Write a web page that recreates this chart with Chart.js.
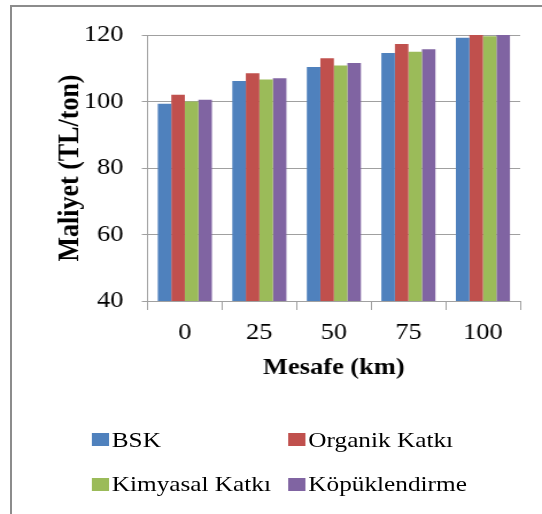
<!DOCTYPE html>
<html>
<head>
<meta charset="utf-8">
<script src="https://cdn.jsdelivr.net/npm/chart.js@4.4.1/dist/chart.umd.min.js"></script>
<style>
  html, body { margin: 0; padding: 0; background: #fff; }
  body { width: 542px; height: 514px; position: relative; overflow: hidden; }
  #frame { position: absolute; left: 10px; top: 5px; width: 600px; height: 600px;
           border-top: 2px solid #8c8c8c; border-left: 2px solid #8c8c8c; }
  #wrap { position: absolute; left: 0; top: 0; width: 472px; height: 514px;
          transform: scaleX(1.1483); transform-origin: 0 0; }
  #myChart { position: absolute; left: 0; top: 0; }
  .lg { position: absolute; font-family: "Liberation Serif", "Times New Roman", serif;
        font-size: 22px; line-height: 26px; color: #000; white-space: nowrap; }
  .sq { position: absolute; width: 14.5px; height: 13px; }
</style>
</head>
<body>
<div id="frame"></div>
<div id="wrap">
  <canvas id="myChart" width="472" height="400"></canvas>
  <div id="legend"></div>
</div>
<script>
const categories = ['0', '25', '50', '75', '100'];
const seriesNames = ['BSK', 'Organik Katk\u0131', 'Kimyasal Katk\u0131', 'K\u00f6p\u00fcklendirme'];
const bsk = [99.3, 106.2, 110.4, 114.6, 119.2];
const organik = [102.0, 108.5, 113.0, 117.3, 121.0];
const kimyasal = [100.0, 106.6, 110.8, 115.0, 119.6];
const kopuk = [100.5, 107.0, 111.6, 115.7, 120.1];
const yTicks = [40, 60, 80, 100, 120];

const colors = ['#4F81BD', '#C0504D', '#9BBB59', '#8064A2'];
const serif = '"Liberation Serif", "Times New Roman", serif';
const gray = '#a0a0a0';

// ----------------------------------------------------------------

const allSeries = [bsk, organik, kimyasal, kopuk];

const data = {
  labels: categories,
  datasets: allSeries.map((vals, i) => ({
    label: seriesNames[i],
    data: vals,
    backgroundColor: colors[i],
    borderWidth: 0,
    categoryPercentage: 0.726,
    barPercentage: 1.0
  }))
};

const config = {
  type: 'bar',
  data: data,
  options: {
    responsive: false,
    animation: false,
    layout: {
      padding: { left: 30, right: 19, top: 35, bottom: 0 }
    },
    plugins: {
      legend: { display: false },
      tooltip: { enabled: false }
    },
    scales: {
      x: {
        afterFit: function (scale) { scale.height = 99; },
        grid: {
          display: true,
          drawOnChartArea: false,
          drawTicks: true,
          tickLength: 9,
          color: gray,
          offset: true
        },
        border: { display: true, color: gray, width: 1 },
        ticks: {
          color: '#000',
          padding: 9,
          font: { family: serif, size: 23 }
        },
        title: {
          display: true,
          text: 'Mesafe (km)',
          color: '#000',
          font: { family: serif, size: 23, weight: 'bold' },
          padding: { top: 0, bottom: 18 }
        }
      },
      y: {
        min: yTicks[0],
        max: yTicks[yTicks.length - 1],
        afterFit: function (scale) { scale.width = 98.5; },
        afterBuildTicks: function (scale) {
          scale.ticks = yTicks.map(v => ({ value: v }));
        },
        grid: {
          color: gray,
          drawTicks: true,
          tickLength: 5
        },
        border: { display: true, color: gray, width: 1 },
        ticks: {
          color: '#000',
          padding: 16,
          font: { family: serif, size: 23 }
        },
        title: {
          display: true,
          text: 'Maliyet (TL/ton)',
          color: '#000',
          font: { family: serif, size: 26, weight: 'bold' },
          padding: { top: 16, bottom: 0 }
        }
      }
    }
  }
};

// legend in two columns, built from the dataset names/colours
function buildLegend() {
  const box = document.getElementById('legend');
  const colX = [80, 251];
  const textX = [97.3, 268.5];
  const rowTop = [427, 471];
  const sqTop = [433, 477.5];
  seriesNames.forEach((name, i) => {
    const col = i % 2;
    const row = Math.floor(i / 2);
    const sq = document.createElement('div');
    sq.className = 'sq';
    sq.style.left = colX[col] + 'px';
    sq.style.top = sqTop[row] + 'px';
    sq.style.background = colors[i];
    box.appendChild(sq);
    const t = document.createElement('div');
    t.className = 'lg';
    t.style.left = textX[col] + 'px';
    t.style.top = rowTop[row] + 'px';
    t.textContent = name;
    box.appendChild(t);
  });
}

buildLegend();
var ctx = document.getElementById('myChart').getContext('2d');
var myChart = new Chart(ctx, config);
</script>
</body>
</html>
